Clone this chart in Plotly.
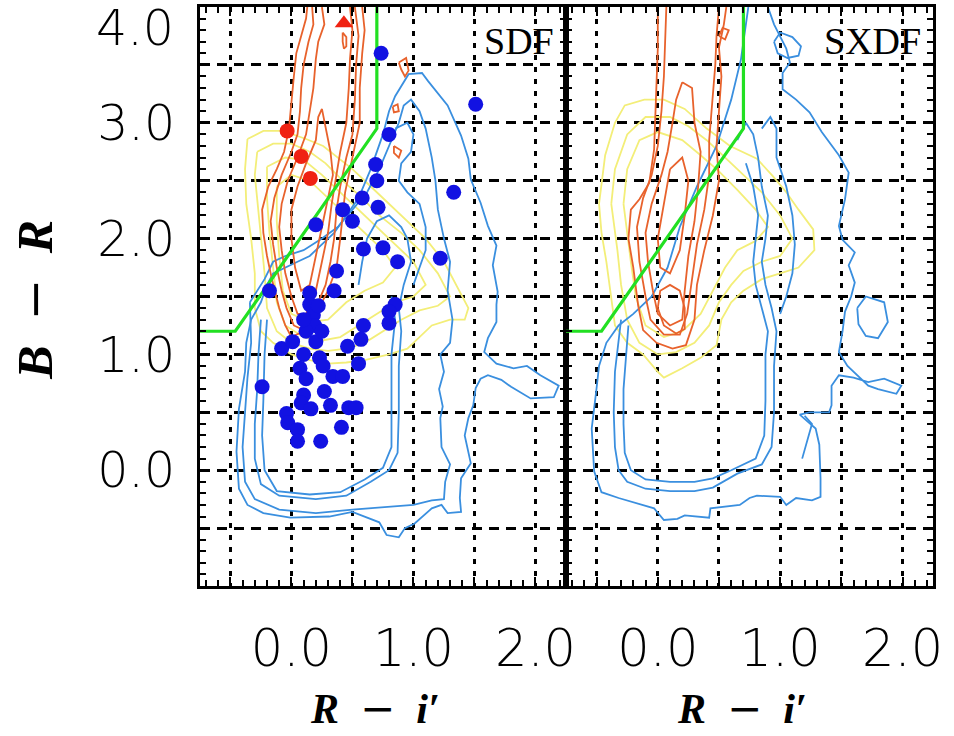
import plotly.graph_objects as go

# ---------------------------------------------------------------- data
# Density contours in the (R - i', B - R) plane, one list of polylines per
# colour and field.  Each polyline is a list of (R-i', B-R) vertices.
SDF_BLUE = [
    [(-0.43, 0.53), (-0.45, 0.16), (-0.43, -0.16), (-0.36, -0.30), (-0.23, -0.37), (-0.01, -0.41),
     (0.31, -0.40), (0.50, -0.36), (0.72, -0.45), (0.74, -0.49), (0.78, -0.56), (0.88, -0.58),
     (0.93, -0.50), (1.01, -0.46), (1.15, -0.33), (1.23, -0.30), (1.28, -0.37), (1.39, -0.36),
     (1.38, -0.24), (1.39, -0.07), (1.47, 0.06), (1.42, 0.30), (1.45, 0.45), (1.49, 0.56),
     (1.51, 0.71), (1.55, 0.79), (1.61, 0.82), (1.72, 0.78), (1.80, 0.72), (1.96, 0.62),
     (2.15, 0.63), (2.19, 0.73), (2.04, 0.82), (1.93, 0.90), (1.82, 0.88), (1.68, 0.92),
     (1.58, 1.02), (1.61, 1.14), (1.68, 1.28), (1.68, 1.43), (1.69, 1.54), (1.65, 1.77),
     (1.68, 1.94), (1.61, 2.11), (1.55, 2.31), (1.47, 2.51), (1.45, 2.69), (1.39, 2.89),
     (1.28, 3.15), (1.12, 3.36), (1.07, 3.43), (0.96, 3.42), (0.85, 3.23), (0.80, 3.10),
     (0.75, 2.90), (0.65, 2.60), (0.55, 2.35), (0.45, 2.20), (0.35, 2.05), (0.25, 1.95),
     (0.15, 1.85), (0.05, 1.80), (-0.05, 1.75), (-0.15, 1.70), (-0.20, 1.60), (-0.25, 1.45),
     (-0.33, 1.30), (-0.37, 1.10), (-0.38, 0.85), (-0.43, 0.53)],
    [(-0.34, 1.45), (-0.33, 1.10), (-0.36, 0.80), (-0.38, 0.50), (-0.40, 0.20), (-0.38, -0.10),
     (-0.30, -0.25), (-0.10, -0.34), (0.20, -0.37), (0.50, -0.34), (0.75, -0.32), (1.00, -0.30),
     (1.15, -0.26), (1.25, -0.25), (1.26, -0.10), (1.30, 0.05), (1.23, 0.20), (1.22, 0.45),
     (1.24, 0.55), (1.21, 0.70), (1.25, 0.85), (1.22, 1.00), (1.30, 1.10), (1.32, 1.30),
     (1.28, 1.55), (1.30, 1.80), (1.25, 2.00), (1.20, 2.25), (1.18, 2.50), (1.15, 2.70),
     (1.10, 2.95), (1.05, 3.10), (0.98, 3.20), (0.92, 3.15), (0.88, 3.00), (0.80, 2.80),
     (0.72, 2.60), (0.62, 2.40), (0.50, 2.25), (0.38, 2.10), (0.25, 2.00), (0.10, 1.90),
     (-0.05, 1.85), (-0.15, 1.80), (-0.22, 1.65), (-0.28, 1.55), (-0.34, 1.45)],
    [(-0.25, 1.30), (-0.27, 1.00), (-0.28, 0.70), (-0.30, 0.40), (-0.30, 0.10), (-0.25, -0.12),
     (-0.10, -0.22), (0.20, -0.25), (0.45, -0.22), (0.65, -0.10), (0.80, 0.00), (0.87, 0.15),
     (0.88, 0.50), (0.88, 0.90), (0.90, 1.20), (0.88, 1.40), (0.92, 1.60), (0.98, 1.80),
     (0.95, 2.00), (0.90, 2.10), (0.80, 2.20), (0.70, 2.15), (0.62, 2.00), (0.58, 1.80),
     (0.55, 1.60)],
    [(-0.20, 1.30), (-0.22, 1.00), (-0.23, 0.60), (-0.24, 0.30), (-0.22, 0.00), (-0.12, -0.18),
     (0.15, -0.21), (0.40, -0.19), (0.60, -0.08), (0.75, 0.02), (0.82, 0.20), (0.82, 0.60),
     (0.82, 1.00), (0.85, 1.30), (0.82, 1.50)],
    [(0.85, 2.95), (0.95, 3.00), (1.00, 2.90), (0.98, 2.75), (0.90, 2.65), (0.88, 2.50),
     (0.95, 2.40), (1.05, 2.30), (1.10, 2.10), (1.10, 1.90), (1.05, 1.75), (1.00, 1.60)],
]

SDF_ORANGE = [
    [(0.13, 4.00), (0.12, 3.90), (0.08, 3.75), (0.04, 3.60), (0.02, 3.40), (0.00, 3.20),
     (-0.02, 2.95), (-0.06, 2.75), (-0.12, 2.60), (-0.19, 2.45), (-0.24, 2.25), (-0.23, 2.05),
     (-0.20, 1.85), (-0.16, 1.65), (-0.10, 1.40), (-0.05, 1.25), (0.00, 1.15), (0.10, 1.20),
     (0.20, 1.35), (0.30, 1.55), (0.37, 1.75), (0.40, 2.00), (0.42, 2.20), (0.44, 2.40),
     (0.48, 2.60), (0.52, 2.80), (0.56, 3.00), (0.56, 3.30), (0.58, 3.60), (0.60, 3.80),
     (0.58, 4.00)],
    [(0.17, 4.00), (0.18, 3.85), (0.14, 3.70), (0.10, 3.50), (0.08, 3.30), (0.07, 3.10),
     (0.05, 2.90), (0.00, 2.75), (-0.08, 2.55), (-0.14, 2.35), (-0.17, 2.15), (-0.15, 1.95),
     (-0.12, 1.75), (-0.08, 1.55), (-0.04, 1.40), (0.02, 1.25), (0.08, 1.22), (0.15, 1.30),
     (0.22, 1.45), (0.28, 1.60), (0.32, 1.80), (0.35, 2.00), (0.37, 2.25), (0.40, 2.45),
     (0.45, 2.70), (0.50, 2.90), (0.52, 3.20), (0.53, 3.50), (0.55, 3.75), (0.52, 4.00)],
    [(0.25, 4.00), (0.27, 3.85), (0.22, 3.70), (0.20, 3.55), (0.18, 3.30), (0.15, 3.10),
     (0.12, 2.90), (0.05, 2.70), (-0.03, 2.50), (-0.08, 2.30), (-0.10, 2.10), (-0.08, 1.90),
     (-0.05, 1.70), (0.00, 1.50), (0.05, 1.35), (0.12, 1.35), (0.20, 1.55), (0.25, 1.80),
     (0.30, 2.05), (0.33, 2.30), (0.36, 2.50), (0.40, 2.75), (0.45, 3.00), (0.47, 3.30),
     (0.48, 3.55), (0.50, 3.80), (0.48, 4.00)],
    [(0.25, 3.12), (0.22, 3.05), (0.20, 2.85), (0.12, 2.65), (0.05, 2.45), (0.00, 2.25),
     (0.00, 2.00), (0.03, 1.75), (0.08, 1.55), (0.15, 1.60), (0.20, 1.85), (0.25, 2.10),
     (0.30, 2.35), (0.34, 2.55), (0.32, 2.75), (0.28, 2.95), (0.25, 3.12)],
    [(0.42, 3.78), (0.45, 3.74), (0.45, 3.66), (0.43, 3.64), (0.42, 3.70), (0.42, 3.78)],
    [(0.88, 3.52), (0.94, 3.56), (0.96, 3.45), (0.93, 3.40), (0.90, 3.46), (0.88, 3.52)],
    [(0.83, 3.14), (0.87, 3.16), (0.88, 3.10), (0.84, 3.09), (0.83, 3.14)],
    [(0.84, 2.80), (0.90, 2.76), (0.88, 2.70), (0.84, 2.74), (0.84, 2.80)],
]

SDF_YELLOW = [
    [(-0.36, 2.86), (-0.23, 2.93), (-0.07, 2.93), (0.12, 2.86), (0.26, 2.80), (0.36, 2.72),
     (0.50, 2.60), (0.65, 2.45), (0.80, 2.30), (0.95, 2.15), (1.10, 2.00), (1.25, 1.80),
     (1.35, 1.60), (1.45, 1.40), (1.42, 1.30), (1.30, 1.30), (1.15, 1.25), (1.05, 1.15),
     (0.95, 1.05), (0.80, 1.00), (0.60, 0.95), (0.45, 0.93), (0.30, 0.92), (0.15, 0.95),
     (0.00, 1.00), (-0.15, 1.10), (-0.25, 1.20), (-0.30, 1.40), (-0.30, 1.70), (-0.33, 2.00),
     (-0.37, 2.30), (-0.38, 2.60), (-0.36, 2.86)],
    [(-0.28, 2.75), (-0.15, 2.82), (0.00, 2.82), (0.15, 2.75), (0.28, 2.65), (0.42, 2.50),
     (0.58, 2.35), (0.72, 2.20), (0.90, 2.05), (1.05, 1.90), (1.20, 1.70), (1.30, 1.50),
     (1.20, 1.42), (1.05, 1.38), (0.90, 1.30), (0.75, 1.20), (0.60, 1.10), (0.45, 1.05),
     (0.30, 1.03), (0.15, 1.05), (0.00, 1.10), (-0.12, 1.20), (-0.20, 1.40), (-0.22, 1.70),
     (-0.25, 2.00), (-0.28, 2.30), (-0.30, 2.55), (-0.28, 2.75)],
    [(-0.20, 2.62), (-0.05, 2.70), (0.10, 2.68), (0.25, 2.55), (0.40, 2.40), (0.55, 2.25),
     (0.70, 2.10), (0.85, 1.95), (1.00, 1.80), (1.10, 1.60), (1.00, 1.50), (0.85, 1.45),
     (0.70, 1.35), (0.55, 1.25), (0.40, 1.15), (0.25, 1.12), (0.10, 1.15), (-0.05, 1.25),
     (-0.12, 1.45), (-0.15, 1.75), (-0.18, 2.05), (-0.20, 2.35), (-0.20, 2.62)],
    [(-0.12, 2.45), (0.00, 2.55), (0.15, 2.50), (0.30, 2.35), (0.45, 2.20), (0.60, 2.05),
     (0.75, 1.90), (0.85, 1.75), (0.75, 1.62), (0.60, 1.55), (0.45, 1.45), (0.30, 1.30),
     (0.15, 1.28), (0.00, 1.35), (-0.07, 1.55), (-0.10, 1.85), (-0.12, 2.15), (-0.12, 2.45)],
]

SXDF_BLUE = [
    [(0.74, 4.00), (0.72, 3.85), (0.68, 3.55), (0.60, 3.20), (0.48, 2.80), (0.32, 2.45),
     (0.18, 2.10), (0.08, 1.75), (-0.05, 1.50), (-0.20, 1.35), (-0.32, 1.25), (-0.42, 1.10),
     (-0.48, 0.90), (-0.50, 0.71), (-0.54, 0.36), (-0.52, -0.01), (-0.46, -0.19), (-0.32, -0.24),
     (-0.03, -0.33), (0.05, -0.43), (0.16, -0.42), (0.22, -0.39), (0.42, -0.41), (0.43, -0.33),
     (0.67, -0.30), (0.75, -0.24), (0.81, -0.22), (1.00, -0.23), (1.05, -0.30), (1.13, -0.24),
     (1.26, -0.26), (1.33, -0.23), (1.33, -0.07), (1.32, 0.22), (1.29, 0.36), (1.16, 0.48),
     (1.24, 0.50), (1.40, 0.50), (1.42, 0.56), (1.42, 0.73), (1.48, 0.82), (1.60, 0.80),
     (1.72, 0.76), (1.85, 0.79), (1.99, 0.73), (1.95, 0.66), (1.80, 0.70), (1.72, 0.73),
     (1.55, 0.90), (1.48, 1.02), (1.51, 1.20), (1.53, 1.37), (1.58, 1.50), (1.61, 1.62),
     (1.56, 1.77), (1.61, 1.88), (1.51, 1.99), (1.48, 2.11), (1.53, 2.34), (1.56, 2.57),
     (1.48, 2.72), (1.34, 2.92), (1.24, 3.09), (1.13, 3.20), (1.02, 3.29), (1.02, 3.43),
     (1.08, 3.52), (1.05, 3.64), (1.00, 3.75), (0.95, 3.85), (0.90, 4.00)],
    [(0.65, 2.85), (0.72, 3.00), (0.78, 2.90), (0.82, 2.70), (0.85, 2.45), (0.90, 2.20),
     (0.88, 2.00), (0.85, 1.80), (0.88, 1.60), (0.93, 1.40), (0.97, 1.20), (0.95, 0.90),
     (0.95, 0.50), (0.93, 0.20), (0.85, 0.05), (0.65, -0.03), (0.45, -0.15), (0.30, -0.18),
     (0.10, -0.18), (-0.10, -0.16), (-0.25, -0.10), (-0.32, 0.00), (-0.35, 0.20), (-0.36, 0.50),
     (-0.35, 0.85), (-0.32, 1.10), (-0.30, 1.30)],
    [(0.72, 2.65), (0.78, 2.45), (0.82, 2.20), (0.80, 2.00), (0.78, 1.80), (0.80, 1.60),
     (0.85, 1.40), (0.90, 1.20), (0.88, 1.00), (0.88, 0.60), (0.87, 0.30), (0.80, 0.10),
     (0.60, 0.00), (0.45, -0.07), (0.30, -0.10), (0.10, -0.10), (-0.10, -0.08), (-0.22, 0.00),
     (-0.27, 0.15), (-0.28, 0.40), (-0.28, 0.70), (-0.26, 1.00), (-0.24, 1.25)],
    [(0.85, 2.95), (0.92, 3.05), (0.97, 2.95), (0.97, 2.70), (1.05, 2.45), (1.10, 2.20),
     (1.12, 1.95), (1.10, 1.70), (1.05, 1.50), (1.00, 1.35)],
    [(0.95, 3.70), (1.00, 3.78), (1.10, 3.74), (1.17, 3.66), (1.15, 3.58), (1.06, 3.56),
     (0.98, 3.60), (0.95, 3.70)],
    [(1.63, 1.40), (1.70, 1.50), (1.85, 1.45), (1.88, 1.28), (1.80, 1.14), (1.70, 1.16),
     (1.64, 1.26), (1.63, 1.40)],
    [(1.18, 0.10), (1.22, 0.25), (1.26, 0.40), (1.20, 0.47)],
]

SXDF_ORANGE = [
    [(0.00, 4.00), (0.00, 3.64), (-0.01, 3.35), (-0.03, 2.77), (-0.07, 2.48), (-0.15, 2.34),
     (-0.22, 2.25), (-0.24, 2.00), (-0.20, 1.75), (-0.16, 1.42), (-0.12, 1.21), (-0.01, 1.10),
     (0.12, 1.05), (0.23, 1.08), (0.30, 1.30), (0.32, 1.60), (0.38, 1.90), (0.45, 2.20),
     (0.50, 2.50), (0.48, 2.80), (0.50, 3.10), (0.52, 3.40), (0.50, 3.65), (0.54, 3.85),
     (0.56, 4.00)],
    [(0.07, 4.00), (0.06, 3.70), (0.05, 3.40), (0.03, 3.10), (0.00, 2.80), (-0.05, 2.55),
     (-0.12, 2.35), (-0.17, 2.10), (-0.15, 1.80), (-0.10, 1.50), (-0.06, 1.30), (0.05, 1.17),
     (0.18, 1.17), (0.24, 1.35), (0.28, 1.65), (0.32, 1.95), (0.38, 2.25), (0.42, 2.55),
     (0.42, 2.85), (0.45, 3.20), (0.47, 3.50), (0.48, 3.75), (0.50, 4.00)],
    [(0.20, 3.35), (0.15, 3.20), (0.12, 3.00), (0.08, 2.75), (0.03, 2.55), (-0.05, 2.30),
     (-0.10, 2.05), (-0.08, 1.80), (-0.04, 1.55), (0.00, 1.35), (0.10, 1.25), (0.20, 1.30),
     (0.22, 1.55), (0.25, 1.85), (0.30, 2.15), (0.33, 2.45), (0.35, 2.75), (0.30, 3.00),
     (0.28, 3.30), (0.20, 3.35)],
    [(0.00, 1.40), (0.05, 1.25), (0.15, 1.18), (0.22, 1.22), (0.22, 1.40), (0.18, 1.55),
     (0.10, 1.60), (0.02, 1.55), (0.00, 1.40)],
    [(0.10, 2.60), (0.05, 2.30), (0.00, 2.00), (0.02, 1.75), (0.10, 1.70), (0.18, 1.90),
     (0.22, 2.20), (0.25, 2.50), (0.20, 2.70), (0.10, 2.60)],
    [(0.50, 3.75), (0.53, 3.82), (0.58, 3.80), (0.55, 3.72), (0.50, 3.75)],
]

SXDF_YELLOW = [
    [(-0.48, 2.30), (-0.43, 2.72), (-0.35, 3.00), (-0.27, 3.15), (-0.11, 3.20), (0.05, 3.20),
     (0.22, 3.12), (0.40, 2.95), (0.59, 2.80), (0.81, 2.69), (0.94, 2.54), (1.05, 2.40),
     (1.15, 2.25), (1.27, 2.08), (1.28, 1.90), (1.15, 1.75), (1.00, 1.70), (0.85, 1.65),
     (0.70, 1.55), (0.60, 1.45), (0.52, 1.30), (0.48, 1.08), (0.35, 0.97), (0.20, 0.88),
     (0.05, 0.80), (0.00, 0.85), (-0.12, 1.00), (-0.25, 1.10), (-0.35, 1.25), (-0.38, 1.50),
     (-0.42, 1.80), (-0.46, 2.05), (-0.48, 2.30)],
    [(-0.38, 2.30), (-0.35, 2.60), (-0.25, 2.90), (-0.10, 3.05), (0.10, 3.05), (0.25, 2.97),
     (0.40, 2.85), (0.55, 2.70), (0.70, 2.55), (0.85, 2.40), (1.00, 2.20), (1.10, 2.00),
     (1.00, 1.85), (0.85, 1.80), (0.70, 1.72), (0.60, 1.60), (0.50, 1.45), (0.42, 1.25),
     (0.30, 1.10), (0.15, 1.02), (0.00, 1.00), (-0.15, 1.10), (-0.25, 1.30), (-0.30, 1.60),
     (-0.33, 1.90), (-0.38, 2.30)],
    [(-0.28, 2.30), (-0.25, 2.60), (-0.15, 2.85), (0.00, 2.92), (0.20, 2.85), (0.35, 2.72),
     (0.50, 2.58), (0.65, 2.42), (0.80, 2.25), (0.90, 2.10), (0.80, 1.98), (0.65, 1.90),
     (0.55, 1.75), (0.45, 1.55), (0.35, 1.35), (0.20, 1.20), (0.05, 1.15), (-0.10, 1.25),
     (-0.18, 1.50), (-0.22, 1.80), (-0.28, 2.30)],
]

# Colour-selection boundary (same in both fields)
CUT_X = [-0.75, -0.46, 0.70, 0.70]
CUT_Y = [1.20, 1.20, 2.95, 4.00]

# Individual SDF objects
SDF_BLUE_X = [0.735, 1.51, 0.80, 0.69, 0.70, 1.33, 0.58, 0.71, 0.42, 0.50, 0.20, 0.59, 0.75,
              0.87, 1.22, 0.37, -0.18, 0.15, 0.35, 0.85, 0.80, 0.80, 0.59, 0.57, 0.46, 0.55,
              -0.24, 0.15, 0.18, 0.19, 0.12, 0.20, -0.08, 0.01, 0.10, 0.23, 0.07, 0.26, 0.34,
              0.42, 0.12, 0.27, 0.10, 0.08, 0.16, 0.32, 0.47, 0.53, -0.04, -0.03, 0.05, 0.41,
              0.05, 0.24, 0.22, 0.10, 0.25]
SDF_BLUE_Y = [3.60, 3.16, 2.90, 2.64, 2.50, 2.40, 2.35, 2.27, 2.25, 2.15, 2.12, 1.91, 1.92,
              1.80, 1.83, 1.72, 1.55, 1.53, 1.55, 1.43, 1.37, 1.27, 1.25, 1.13, 1.07, 0.92,
              0.72, 1.43, 1.34, 1.25, 1.20, 1.11, 1.05, 1.11, 1.00, 0.97, 0.88, 0.90, 0.81,
              0.81, 0.79, 0.68, 0.65, 0.58, 0.53, 0.56, 0.54, 0.54, 0.49, 0.41, 0.35, 0.37,
              0.25, 0.25, 1.42, 1.30, 1.20]
SDF_RED_X = [-0.035, 0.08, 0.155]
SDF_RED_Y = [2.93, 2.71, 2.52]
SDF_LIMIT_X = [0.43]
SDF_LIMIT_Y = [3.86]

X_TICKS = [-0.5, 0.0, 0.5, 1.0, 1.5, 2.0]
X_TICKTEXT = ["", "0.0", "", "1.0", "", "2.0"]
Y_TICKS = [-0.5, 0.0, 0.5, 1.0, 1.5, 2.0, 2.5, 3.0, 3.5]
Y_TICKTEXT = ["", "0.0", "", "1.0", "", "2.0", "", "3.0", ""]
X_RANGE = [-0.75, 2.25]
Y_RANGE = [-1.0, 4.0]
FIELDS = ["SDF", "SXDF"]

BLUE_C = "#3a8fdf"
ORANGE_C = "#e8622c"
YELLOW_C = "#f3ee78"
GREEN_C = "#22e022"
DOT_BLUE = "#1212e2"
DOT_RED = "#f02212"


def polylines(curves):
    xs, ys = [], []
    for curve in curves:
        xs += [p[0] for p in curve] + [None]
        ys += [p[1] for p in curve] + [None]
    return xs, ys


fig = go.Figure()

panels = [
    ("x", "y", SDF_YELLOW, SDF_BLUE, SDF_ORANGE),
    ("x2", "y2", SXDF_YELLOW, SXDF_BLUE, SXDF_ORANGE),
]
for xa, ya, yel, blu, ora in panels:
    for curves, col in ((yel, YELLOW_C), (blu, BLUE_C), (ora, ORANGE_C)):
        cx, cy = polylines(curves)
        fig.add_trace(go.Scatter(x=cx, y=cy, xaxis=xa, yaxis=ya, mode="lines",
                                 line=dict(color=col, width=1.8), hoverinfo="skip",
                                 showlegend=False))
    fig.add_trace(go.Scatter(x=CUT_X, y=CUT_Y, xaxis=xa, yaxis=ya, mode="lines",
                             line=dict(color=GREEN_C, width=3.2), hoverinfo="skip",
                             showlegend=False))

fig.add_trace(go.Scatter(x=SDF_BLUE_X, y=SDF_BLUE_Y, xaxis="x", yaxis="y", mode="markers",
                         marker=dict(color=DOT_BLUE, size=15, line=dict(width=0)),
                         showlegend=False))
fig.add_trace(go.Scatter(x=SDF_RED_X, y=SDF_RED_Y, xaxis="x", yaxis="y", mode="markers",
                         marker=dict(color=DOT_RED, size=15, line=dict(width=0)),
                         showlegend=False))
fig.add_trace(go.Scatter(x=SDF_LIMIT_X, y=SDF_LIMIT_Y, xaxis="x", yaxis="y", mode="markers",
                         marker=dict(color=DOT_RED, size=16, symbol="triangle-up",
                                     line=dict(width=0)),
                         showlegend=False))

W, H = 954, 736
left, mid, right = 202 / W, 572 / W, 943 / W
bottom, top = (H - 586) / H, (H - 7) / H

tick_font = dict(family="DejaVu Sans", size=51, color="black", weight=200)
ytick_font = dict(tick_font, size=49)

minor = dict(tickmode="linear", tick0=0, dtick=0.1, ticks="inside", ticklen=6,
             tickwidth=1.5, tickcolor="black", showgrid=False)


def xaxis(domain, anchor):
    return dict(domain=domain, anchor=anchor, range=X_RANGE, tickmode="array",
                tickvals=X_TICKS, ticktext=X_TICKTEXT, ticks="inside", ticklen=9,
                tickwidth=2, tickcolor="black", showline=True, linecolor="black",
                linewidth=3, mirror="allticks", showgrid=True, gridcolor="black",
                gridwidth=2.5, griddash="5px,7px", zeroline=False, tickfont=tick_font,
                ticklabelstandoff=16, minor=minor)


def yaxis(anchor, labels):
    return dict(domain=[bottom, top], anchor=anchor, range=Y_RANGE, tickmode="array",
                tickvals=Y_TICKS, ticktext=Y_TICKTEXT if labels else [""] * len(Y_TICKS),
                ticks="inside", ticklen=9, tickwidth=2, tickcolor="black", showline=True,
                linecolor="black", linewidth=3, mirror="allticks", showgrid=True,
                gridcolor="black", gridwidth=2.5, griddash="10px,7px", zeroline=False,
                tickfont=ytick_font, ticklabelstandoff=12, minor=minor)


def axis_title(a, b):
    # wide minus sign taken from DejaVu Serif
    return (f"<b><i>{a}</i></b>&nbsp;&nbsp;<span style='font-family:DejaVu Serif'>−</span>"
            f"&nbsp;&nbsp;<b><i>{b}</i></b>")


title_font = dict(family="Liberation Serif", size=42, color="black")
annotations = [
    # top label of the B - R scale
    dict(text="4.0", xref="paper", yref="y", x=left, y=4.0, xanchor="right",
         yanchor="middle", xshift=-24, yshift=-21, showarrow=False, font=ytick_font),
    dict(text=axis_title("B", "R"), xref="paper", yref="paper", x=35 / W,
         y=(H - 300) / H, textangle=-90, showarrow=False,
         font=dict(title_font, size=50), xanchor="center", yanchor="middle"),
]
for (a, b), xa in (((left, mid), "x"), ((mid, right), "x2")):
    annotations.append(dict(
        text=axis_title("R", "i′"), xref="paper", yref="paper",
        x=(a + b) / 2 - 8 / W, y=(H - 708) / H, showarrow=False, font=title_font,
        xanchor="center", yanchor="middle"))
for name, xa, ya in ((FIELDS[0], "x", "y"), (FIELDS[1], "x2", "y2")):
    annotations.append(dict(text=name, xref=xa, yref=ya, x=X_RANGE[1], y=Y_RANGE[1],
                            xanchor="right", yanchor="top", xshift=-10, yshift=-11,
                            showarrow=False,
                            font=dict(family="Liberation Serif", size=38, color="black")))

fig.update_layout(
    width=W, height=H, margin=dict(l=0, r=0, t=0, b=0),
    paper_bgcolor="white", plot_bgcolor="white",
    xaxis=xaxis([left, mid], "y"),
    yaxis=yaxis("x", True),
    xaxis2=xaxis([mid, right], "y2"),
    yaxis2=yaxis("x2", False),
    annotations=annotations,
    showlegend=False,
)

fig.write_html("out.html")
